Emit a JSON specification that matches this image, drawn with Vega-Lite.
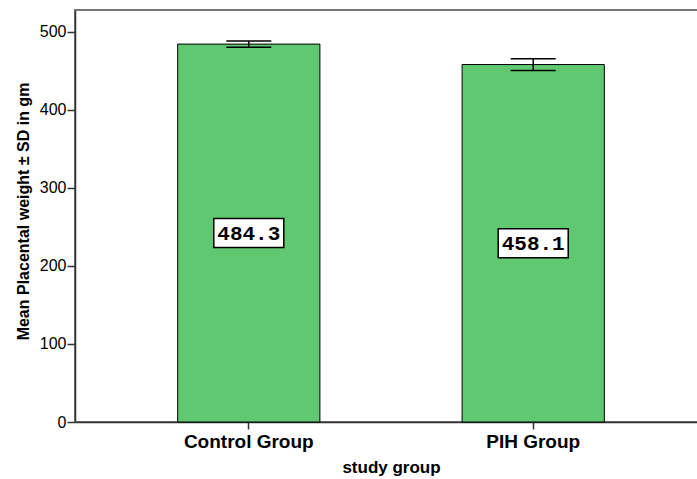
{
  "$schema": "https://vega.github.io/schema/vega-lite/v6.json",
  "autosize": "none",
  "padding": {"left": 75, "top": 10, "right": 0, "bottom": 57},
  "width": 632,
  "height": 412,
  "background": "white",
  "config": {
    "view": {"stroke": "#777777", "strokeWidth": 2},
    "font": "Liberation Sans"
  },
  "data": {
    "values": [
      {"group": "Control Group", "mean": 484.3, "lower": 480.4, "upper": 488.2, "label": "484.3"},
      {"group": "PIH Group", "mean": 458.1, "lower": 450.6, "upper": 465.6, "label": "458.1"}
    ]
  },
  "transform": [{"calculate": "datum.mean / 2", "as": "mid"}],
  "encoding": {
    "x": {
      "field": "group",
      "type": "nominal",
      "sort": null,
      "scale": {"paddingInner": 0.5, "paddingOuter": 0.361},
      "axis": {
        "title": "study group",
        "labelAngle": 0,
        "labelFont": "Liberation Sans",
        "labelFontWeight": "bold",
        "labelFontSize": 19,
        "labelColor": "#000000",
        "labelPadding": 3,
        "tickSize": 7,
        "tickColor": "#333333",
        "tickWidth": 1.5,
        "domainColor": "#333333",
        "domainWidth": 1.5,
        "titleFont": "Liberation Sans",
        "titleFontWeight": "bold",
        "titleFontSize": 17,
        "titleColor": "#000000",
        "titlePadding": 8
      }
    }
  },
  "layer": [
    {
      "mark": {"type": "bar", "fill": "#5fc871", "stroke": "#000000", "strokeWidth": 1},
      "encoding": {
        "y": {
          "field": "mean",
          "type": "quantitative",
          "scale": {"domain": [0, 528], "nice": false},
          "axis": {
            "title": "Mean Placental weight ± SD in gm",
            "values": [0, 100, 200, 300, 400, 500],
            "grid": false,
            "labelFont": "Liberation Sans",
            "labelFontSize": 16,
            "labelColor": "#000000",
            "labelPadding": 1,
            "tickSize": 8,
            "tickColor": "#333333",
            "tickWidth": 1.5,
            "domainColor": "#333333",
            "domainWidth": 1.5,
            "titleFont": "Liberation Sans",
            "titleFontWeight": "bold",
            "titleFontSize": 16,
            "titleColor": "#000000",
            "titlePadding": 8,
            "titleY": 201
          }
        }
      }
    },
    {
      "mark": {"type": "rule", "color": "#000000", "strokeWidth": 1.5},
      "encoding": {
        "y": {"field": "lower", "type": "quantitative"},
        "y2": {"field": "upper"}
      }
    },
    {
      "mark": {"type": "tick", "color": "#000000", "size": 45, "thickness": 1.5, "opacity": 1},
      "encoding": {"y": {"field": "lower", "type": "quantitative"}}
    },
    {
      "mark": {"type": "tick", "color": "#000000", "size": 45, "thickness": 1.5, "opacity": 1},
      "encoding": {"y": {"field": "upper", "type": "quantitative"}}
    },
    {
      "mark": {
        "type": "point",
        "shape": "M-1,-0.414H1V0.414H-1Z",
        "size": 4900,
        "filled": true,
        "fill": "#ffffff",
        "stroke": "#000000",
        "strokeWidth": 1.5,
        "opacity": 1
      },
      "encoding": {"y": {"field": "mid", "type": "quantitative"}}
    },
    {
      "mark": {
        "type": "text",
        "font": "Liberation Mono",
        "fontWeight": "bold",
        "fontSize": 21,
        "color": "#000000",
        "baseline": "middle",
        "align": "center",
        "dy": 1
      },
      "encoding": {
        "y": {"field": "mid", "type": "quantitative"},
        "text": {"field": "label"}
      }
    }
  ]
}
